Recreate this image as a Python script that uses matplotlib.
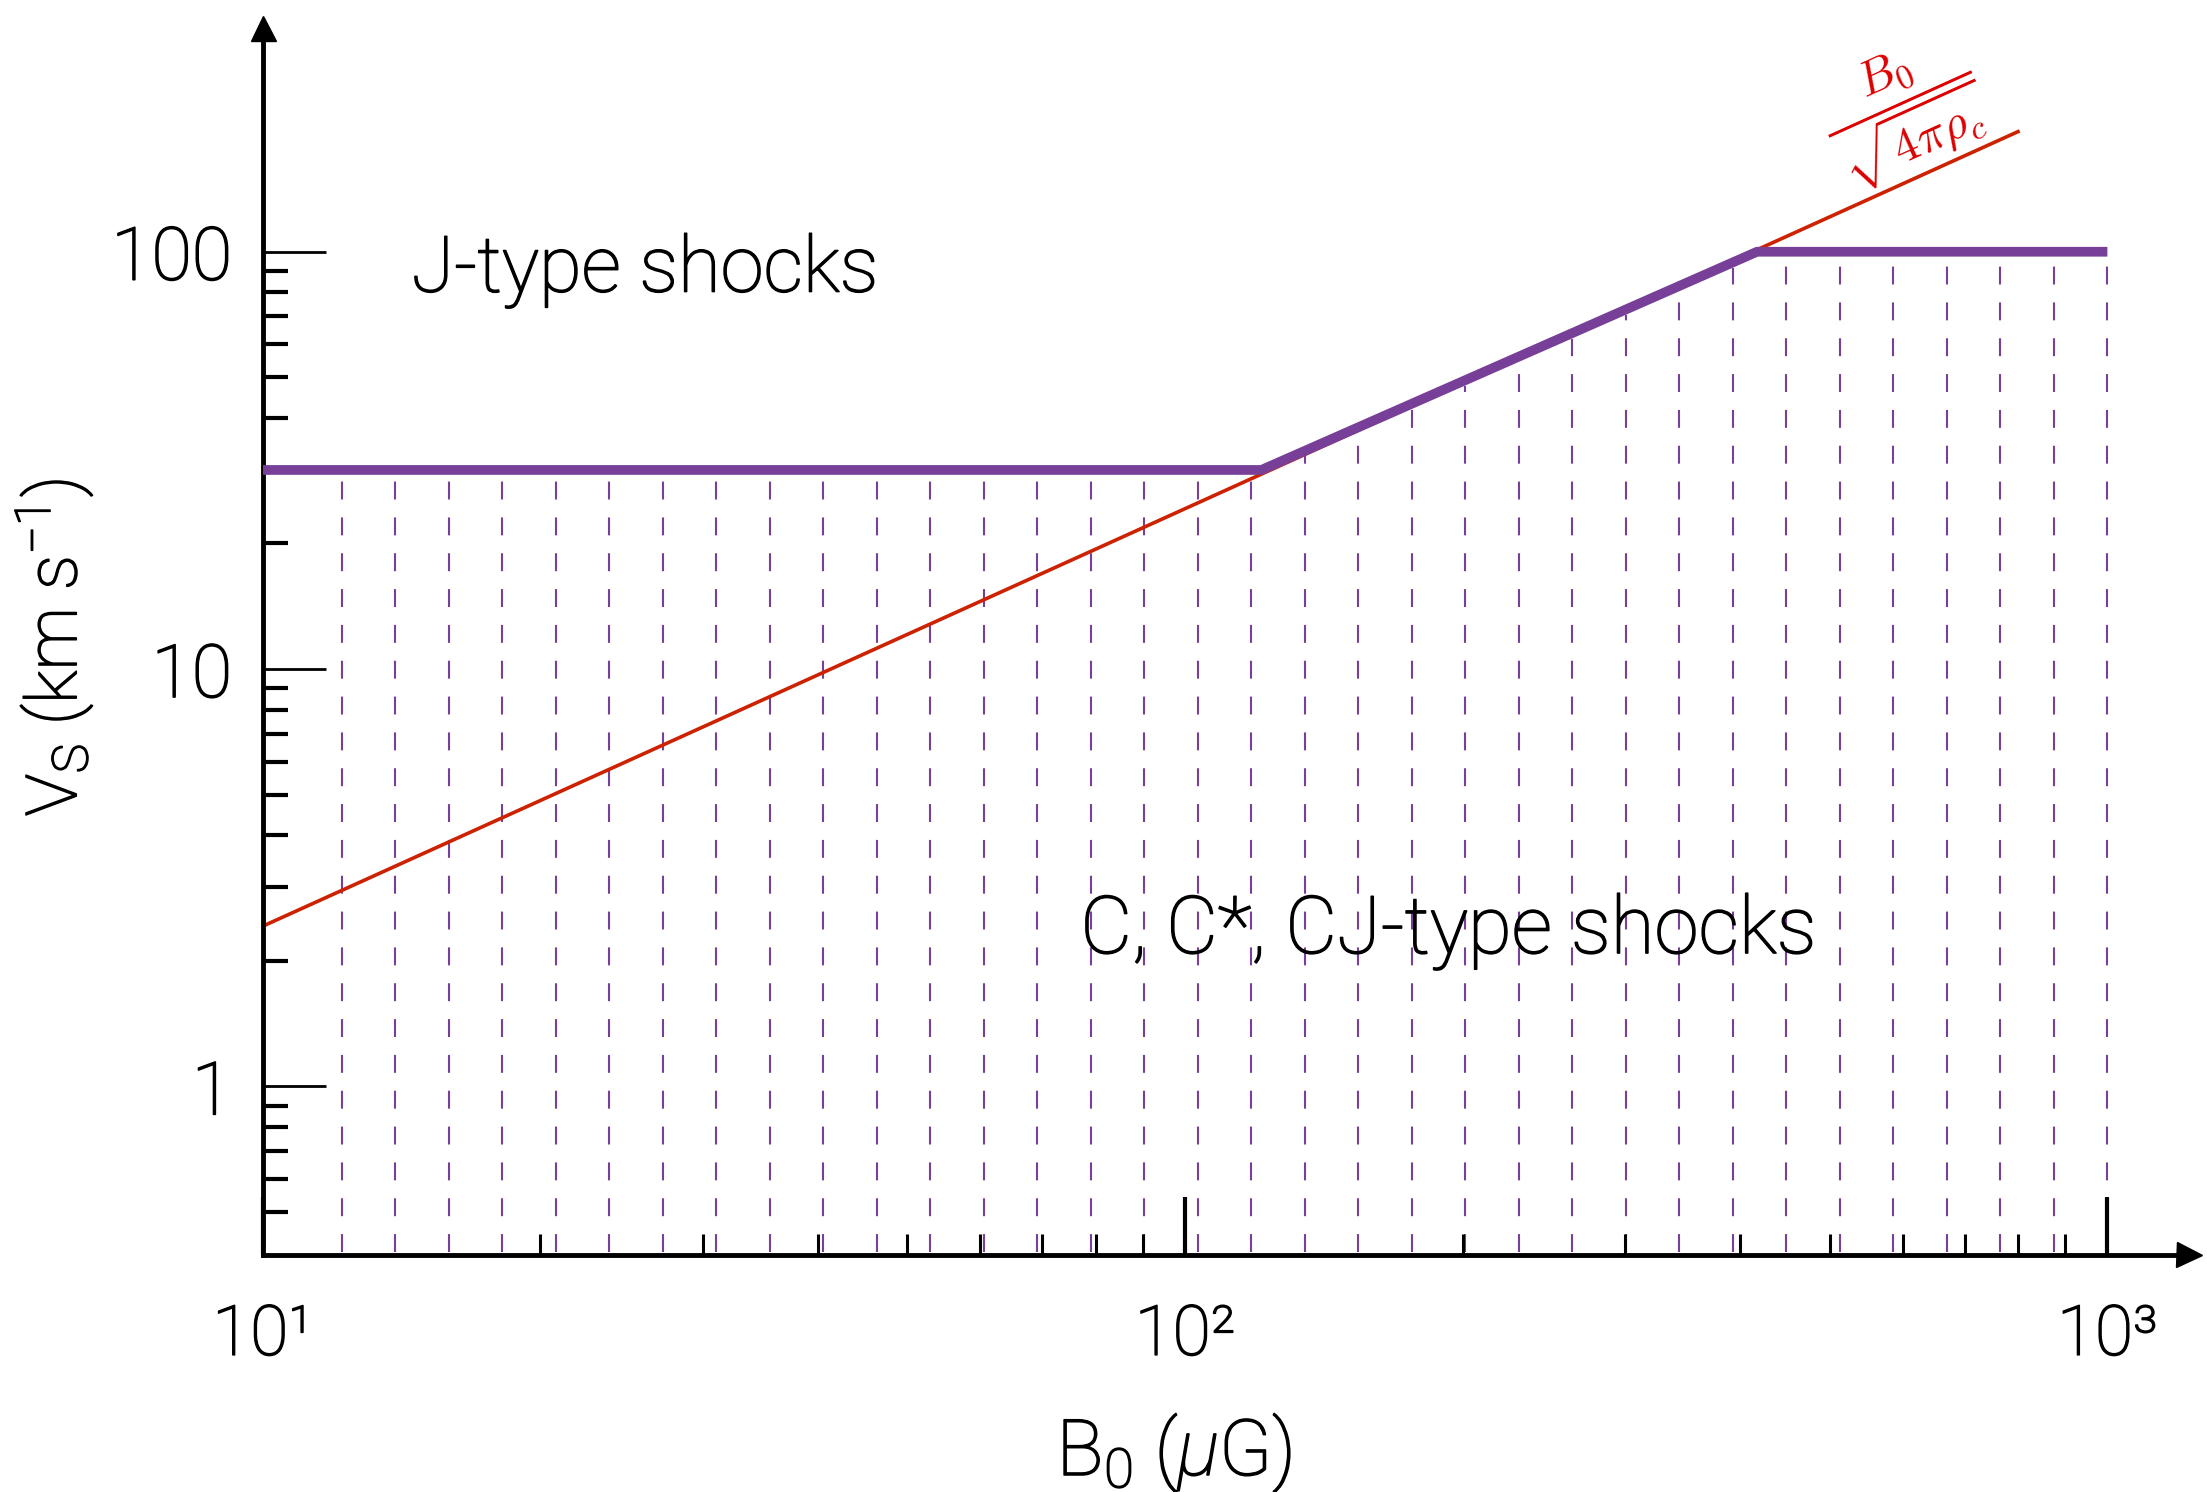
import numpy as np
import matplotlib
matplotlib.use('Agg')
import matplotlib.pyplot as plt
import matplotlib.patheffects as pe
from matplotlib.ticker import FixedLocator, FixedFormatter, NullFormatter

# ---------------- data ----------------
boundary_B = [10, 121, 417, 1000]        # B0 (muG), J / C-type boundary
boundary_V = [30, 30, 100, 100]          # Vs (km/s)
alfven_B = [10, 800]                     # B0 / sqrt(4 pi rho_c)
alfven_V = [2.42, 194]

x_major = [10, 100, 1000]
x_major_labels = ['10¹', '10²', '10³']
x_minor = [20, 30, 40, 50, 60, 70, 80, 90, 200, 300, 400, 500, 600, 700, 800, 900]
y_major = [1, 10, 100]
y_major_labels = ['1', '10', '100']
y_minor = [0.5, 0.6, 0.7, 0.8, 0.9, 2, 3, 4, 5, 6, 7, 8, 9,
           20, 30, 40, 50, 60, 70, 80, 90]

jtype_label = 'J-type shocks'
ctype_label = 'C, C*, CJ-type shocks'
formula_label = r'$\dfrac{B_0}{\sqrt{4\pi\rho_c}}$'

PURPLE = '#773F98'
RED = '#CC2200'

# ---------------- style ----------------
plt.rcParams['font.family'] = ['Roboto', 'DejaVu Sans']
plt.rcParams['font.weight'] = 'light'
plt.rcParams['mathtext.fontset'] = 'custom'
plt.rcParams['mathtext.rm'] = 'Roboto:light'
plt.rcParams['mathtext.it'] = 'Roboto:light:italic'
plt.rcParams['mathtext.sf'] = 'Roboto:light'

# slightly thicken the light face
THICK = [pe.withStroke(linewidth=1.1, foreground='black')]

fig = plt.figure(figsize=(22.07, 14.92), dpi=100)
ax = fig.add_axes([0.119, 0.159, 0.873, 0.822])
ax.set_xscale('log')
ax.set_yscale('log')
ax.set_xlim(10, 1227)
ax.set_ylim(0.395, 343)

# hatch of the C-type region (dashed verticals evenly spaced in log B)
hatch_x = np.logspace(1.086, 3.0, 34)
lb = np.log10(boundary_B)
lv = np.log10(boundary_V)
for hx in hatch_x:
    top = 10 ** np.interp(np.log10(hx), lb, lv)
    ax.plot([hx, hx], [0.4, top * 0.97], color=PURPLE, lw=1.5,
            linestyle=(0, (8.6, 8.6)), zorder=1, solid_capstyle='butt')

ax.plot(alfven_B, alfven_V, color=RED, lw=2.6, zorder=2)
ax.plot(boundary_B, boundary_V, color=PURPLE, lw=7, zorder=3,
        solid_joinstyle='miter', solid_capstyle='butt')

# spines
for s in ['top', 'right']:
    ax.spines[s].set_visible(False)
for s in ['left', 'bottom']:
    ax.spines[s].set_linewidth(3.5)
ax.plot(0, 1, '^', color='k', ms=18, transform=ax.transAxes, clip_on=False)
ax.plot(1, 0, '>', color='k', ms=18, transform=ax.transAxes, clip_on=False)

# ticks
ax.xaxis.set_major_locator(FixedLocator(x_major))
ax.xaxis.set_major_formatter(FixedFormatter(x_major_labels))
ax.xaxis.set_minor_locator(FixedLocator(x_minor))
ax.xaxis.set_minor_formatter(NullFormatter())
ax.yaxis.set_major_locator(FixedLocator(y_major))
ax.yaxis.set_major_formatter(FixedFormatter(y_major_labels))
ax.yaxis.set_minor_locator(FixedLocator(y_minor))
ax.yaxis.set_minor_formatter(NullFormatter())

ax.tick_params(axis='y', which='major', direction='in', length=45, width=2,
               pad=22, labelsize=53)
ax.tick_params(axis='y', which='minor', direction='in', length=18, width=3)
ax.tick_params(axis='x', which='major', direction='in', length=42, width=3,
               pad=35, labelsize=50)
ax.tick_params(axis='x', which='minor', direction='in', length=15, width=2.2)
for lab in ax.get_xticklabels() + ax.get_yticklabels():
    lab.set_path_effects(THICK)

# texts
ax.text(14.5, 90, jtype_label, fontsize=56, ha='left', va='center',
        path_effects=THICK)
ax.text(77, 2.35, ctype_label, fontsize=57.5, ha='left', va='center',
        path_effects=THICK)
ax.text(600, 218, formula_label, fontsize=35, color='#DD0000',
        rotation=24.35, ha='center', va='center', rotation_mode='anchor',
        math_fontfamily='cm')

fig.text(0.0245, 0.566, r'V$_\mathrm{S}$ (km s$^\mathrm{-1}$)', rotation=90,
         ha='center', va='center', fontsize=51, path_effects=THICK)
fig.text(0.532, 0.011, r'B$_\mathrm{0}$ ($\mu$G)', ha='center', va='baseline',
         fontsize=56, path_effects=THICK)

fig.savefig('out.png', dpi=100)
